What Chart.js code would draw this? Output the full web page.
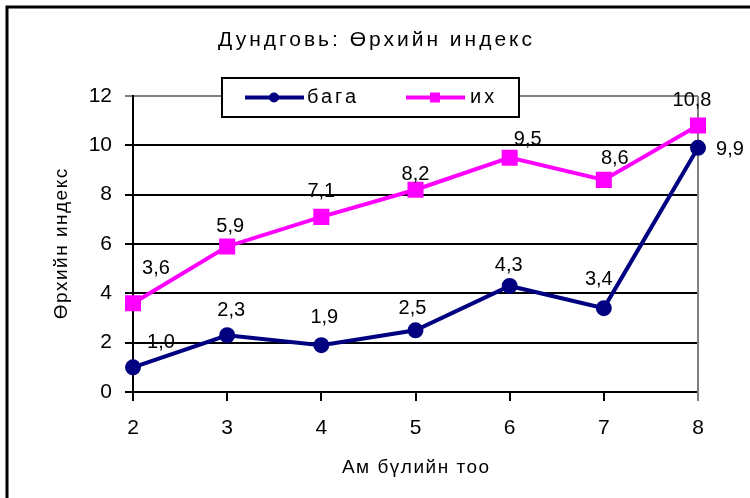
<!DOCTYPE html>
<html lang="mn">
<head>
    <meta charset="UTF-8">
    <title>Дундговь: Өрхийн индекс</title>
    <script src="https://cdn.jsdelivr.net/npm/chart.js"></script>
    <style>
        body {
            margin: 0;
            background-color: white;
        }
        .chart-container {
            width: 750px;
            height: 498px;
            position: relative;
        }
    </style>
</head>
<body>
    <div class="chart-container">
        <canvas id="indexChart"></canvas>
    </div>

    <script>
        // Chart data
        const householdSizes = ['2', '3', '4', '5', '6', '7', '8'];
        const lowValues = [1.0, 2.3, 1.9, 2.5, 4.3, 3.4, 9.9];
        const highValues = [3.6, 5.9, 7.1, 8.2, 9.5, 8.6, 10.8];
        const seriesNames = ['бага', 'их'];
        const yTicks = [0, 2, 4, 6, 8, 10, 12];

        const chartTitle = 'Дундговь: Өрхийн индекс';
        const xTitle = 'Ам бүлийн тоо';
        const yTitle = 'Өрхийн индекс';

        const FONT = "'Liberation Sans', Arial, sans-serif";

        // where Excel left each value label, relative to its point
        const labelShift = [
            [[28, -25], [4, -25], [3, -28], [-3, -22], [-1, -20], [-5, -29], [32, 2]],
            [[23, -35], [3, -20], [0, -25], [0, -15], [18, -18], [11, -21], [-6, -25]]
        ];

        function spacedText(ctx, text, x, y, spacing) {
            ctx.letterSpacing = spacing + 'px';
            ctx.fillText(text, x + spacing / 2, y);
            ctx.letterSpacing = '0px';
        }

        // frame, titles, right plot border, data labels and legend box
        const excelLook = {
            id: 'excelLook',
            beforeDatasetsDraw(chart) {
                const { ctx, chartArea } = chart;
                ctx.save();
                ctx.strokeStyle = '#808080';
                ctx.lineWidth = 2;
                ctx.beginPath();
                ctx.moveTo(chartArea.right, chartArea.top);
                ctx.lineTo(chartArea.right, chartArea.bottom + 9);
                ctx.stroke();
                ctx.restore();
            },
            afterDraw(chart) {
                const { ctx, chartArea } = chart;
                ctx.save();

                // outer frame
                ctx.strokeStyle = '#000';
                ctx.lineWidth = 3;
                ctx.beginPath();
                ctx.moveTo(7, 520);
                ctx.lineTo(7, 7);
                ctx.lineTo(780, 7);
                ctx.stroke();

                // titles
                ctx.fillStyle = '#000';
                ctx.textAlign = 'center';
                ctx.textBaseline = 'middle';
                ctx.font = '21px ' + FONT;
                spacedText(ctx, chartTitle, 375, 40, 3);
                ctx.font = '19px ' + FONT;
                spacedText(ctx, xTitle, (chartArea.left + chartArea.right) / 2, 468, 1.5);
                ctx.save();
                ctx.translate(62, (chartArea.top + chartArea.bottom) / 2);
                ctx.rotate(-Math.PI / 2);
                spacedText(ctx, yTitle, 0, 0, 1.5);
                ctx.restore();

                // data labels
                ctx.font = '20px ' + FONT;
                chart.data.datasets.forEach((ds, di) => {
                    const meta = chart.getDatasetMeta(di);
                    meta.data.forEach((pt, i) => {
                        const txt = ds.data[i].toFixed(1).replace('.', ',');
                        const s = labelShift[di][i];
                        ctx.fillText(txt, pt.x + s[0], pt.y + s[1]);
                    });
                });

                // legend box
                const bx = 222, by = 78, bw = 297, bh = 39;
                ctx.fillStyle = '#fff';
                ctx.fillRect(bx, by, bw, bh);
                ctx.strokeStyle = '#000';
                ctx.lineWidth = 2;
                ctx.strokeRect(bx, by, bw, bh);
                const cy = by + bh / 2;
                const items = [
                    { x: 245, tx: 307 },
                    { x: 406, tx: 470 }
                ];
                chart.data.datasets.forEach((ds, di) => {
                    const it = items[di];
                    ctx.strokeStyle = ds.borderColor;
                    ctx.lineWidth = 4;
                    ctx.beginPath();
                    ctx.moveTo(it.x, cy);
                    ctx.lineTo(it.x + 59, cy);
                    ctx.stroke();
                    ctx.fillStyle = ds.borderColor;
                    if (ds.pointStyle === 'rect') {
                        ctx.fillRect(it.x + 24, cy - 5, 10, 10);
                    } else {
                        ctx.beginPath();
                        ctx.arc(it.x + 29, cy, 5, 0, Math.PI * 2);
                        ctx.fill();
                    }
                    ctx.fillStyle = '#000';
                    ctx.font = '20px ' + FONT;
                    ctx.textAlign = 'left';
                    ctx.letterSpacing = '3px';
                    ctx.fillText(ds.label, it.tx, cy);
                    ctx.letterSpacing = '0px';
                });
                ctx.restore();
            }
        };

        const ctx = document.getElementById('indexChart').getContext('2d');

        new Chart(ctx, {
            type: 'line',
            data: {
                labels: householdSizes,
                datasets: [
                    {
                        label: seriesNames[0],
                        data: lowValues,
                        borderColor: '#000080',
                        backgroundColor: '#000080',
                        borderWidth: 4,
                        pointStyle: 'circle',
                        pointRadius: 6,
                        pointHoverRadius: 6,
                        tension: 0,
                        clip: false
                    },
                    {
                        label: seriesNames[1],
                        data: highValues,
                        borderColor: '#FF00FF',
                        backgroundColor: '#FF00FF',
                        borderWidth: 4,
                        pointStyle: 'rect',
                        pointRadius: 8.5,
                        pointHoverRadius: 8.5,
                        tension: 0,
                        clip: false
                    }
                ]
            },
            options: {
                responsive: true,
                maintainAspectRatio: false,
                animation: false,
                layout: {
                    padding: { top: 96, left: 45, right: 52, bottom: 10 }
                },
                scales: {
                    x: {
                        type: 'category',
                        offset: false,
                        afterFit: (scale) => { scale.height = 96; },
                        grid: {
                            drawOnChartArea: false,
                            drawTicks: true,
                            tickLength: 9,
                            lineWidth: 2,
                            offset: false,
                            color: (c) => c.index === householdSizes.length - 1 ? '#808080' : '#000'
                        },
                        border: { color: '#000', width: 2 },
                        ticks: {
                            color: '#000',
                            padding: 15,
                            maxRotation: 0,
                            font: { family: FONT, size: 21 }
                        }
                    },
                    y: {
                        min: 0,
                        max: 12,
                        afterFit: (scale) => { scale.width = 88; },
                        afterBuildTicks: (scale) => {
                            scale.ticks = yTicks.map(v => ({ value: v }));
                        },
                        grid: {
                            tickLength: 8,
                            lineWidth: 2,
                            color: (c) => c.tick && c.tick.value === 12 ? '#808080' : '#000'
                        },
                        border: { color: '#000', width: 2 },
                        ticks: {
                            color: '#000',
                            padding: 13,
                            font: { family: FONT, size: 21 }
                        }
                    }
                },
                plugins: {
                    legend: { display: false },
                    tooltip: { enabled: false },
                    title: { display: false }
                }
            },
            plugins: [excelLook]
        });
    </script>
</body>
</html>
